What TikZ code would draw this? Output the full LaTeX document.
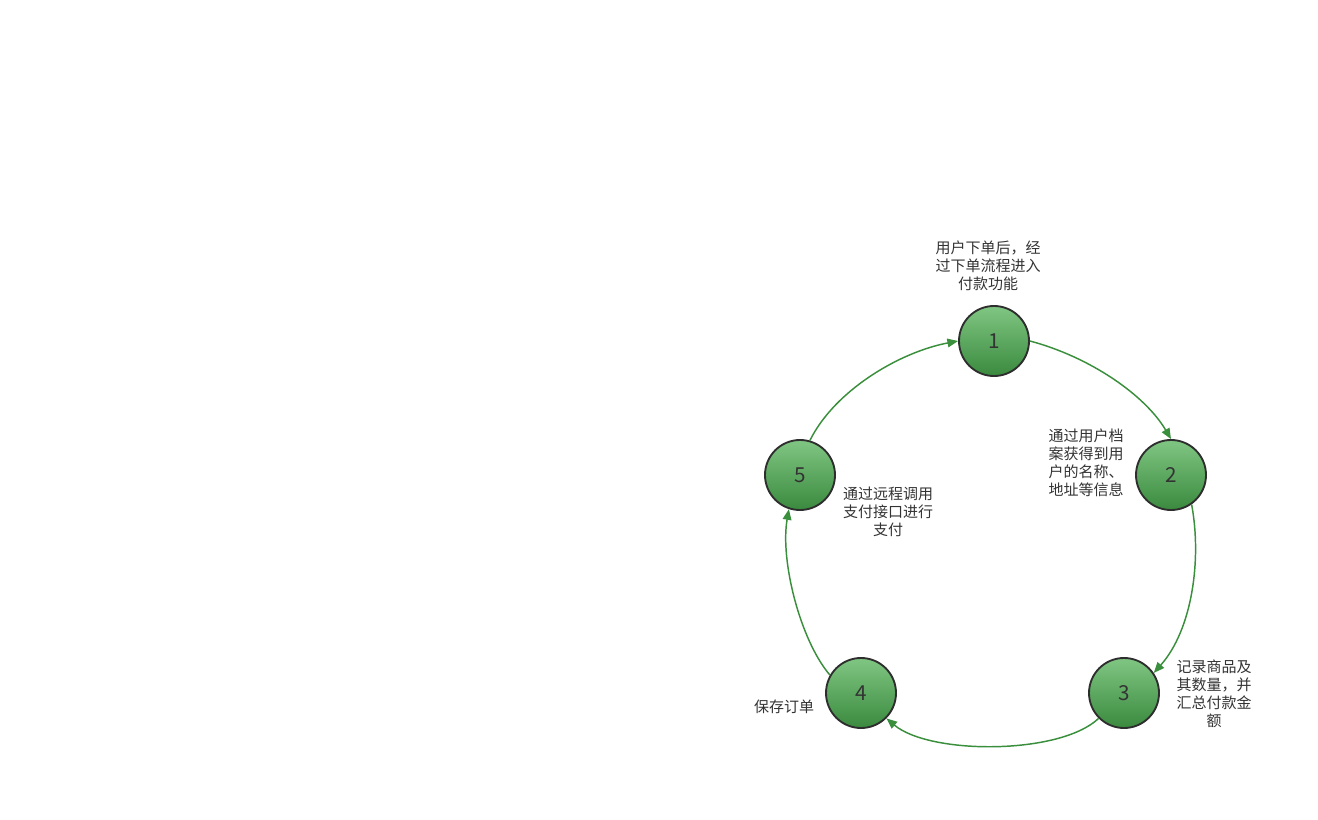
\documentclass[tikz,border=0pt]{standalone}
\usepackage{fontspec}
\setmainfont{Noto Sans CJK SC}
\usetikzlibrary{arrows.meta}
\definecolor{edgegreen}{HTML}{3A8F3C}
\definecolor{topgreen}{HTML}{80C683}
\definecolor{botgreen}{HTML}{3A8A3E}
\definecolor{rimgray}{HTML}{2E2E2E}
\definecolor{txtgray}{HTML}{333333}
\tikzset{
  stepnode/.style={circle, draw=rimgray, line width=1.4pt, top color=topgreen, bottom color=botgreen,
    minimum size=52.5pt, inner sep=0pt, text=txtgray, font=\fontsize{15.5pt}{17pt}\selectfont},
  conn/.style={draw=edgegreen, line width=1.1pt, -{Triangle[length=8pt,width=6.5pt]}},
  lbl/.style={align=center, text=txtgray, inner sep=0pt, font=\fontsize{11.25pt}{13.5pt}\selectfont}
}
\begin{document}
\begin{tikzpicture}[x=0.75pt,y=-0.75pt]
\useasboundingbox (0,0) rectangle (1318,820);
\node[stepnode] (n1) at (994,341) {1};
\node[stepnode] (n2) at (1171,475) {2};
\node[stepnode] (n3) at (1124,693) {3};
\node[stepnode] (n4) at (861,693) {4};
\node[stepnode] (n5) at (800,475) {5};

\node[lbl] (t1) at (988,266) {用户下单后，经\\过下单流程进入\\付款功能};
\node[lbl] (t2) at (1086,463) {通过用户档\\案获得到用\\户的名称、\\地址等信息};
\node[lbl] (t3) at (1214,694) {记录商品及\\其数量，并\\汇总付款金\\额};
\node[lbl] (t4) at (784,707) {保存订单};
\node[lbl] (t5) at (888,512) {通过远程调用\\支付接口进行\\支付};

\draw[conn] (n1.east) .. controls (1090,357) and (1145,395) .. (n2.north);
\draw[conn] (n2.-55) .. controls (1202,560) and (1192,630) .. (n3.34);
\draw[conn] (n3.225) .. controls (1060,755) and (930,755) .. (n4.-45);
\draw[conn] (n4.150) .. controls (800,640) and (780,560) .. (n5.-108);
\draw[conn] (n5.74) .. controls (835,390) and (900,352) .. (n1.west);
\end{tikzpicture}
\end{document}
